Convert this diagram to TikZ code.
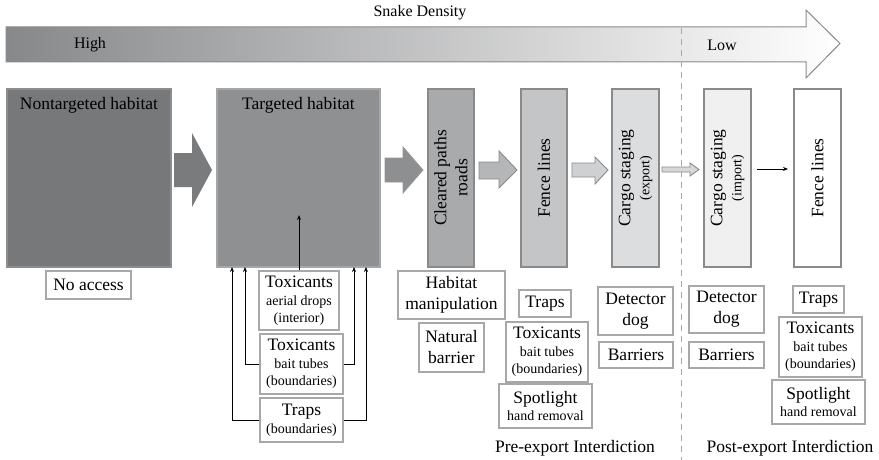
\documentclass[tikz,border=0pt]{standalone}
\usepackage{fontspec}
\setmainfont{Liberation Serif}
\usetikzlibrary{arrows.meta,calc}
\definecolor{bxline}{HTML}{A8A8A8}
\definecolor{cNont}{HTML}{77787A}
\definecolor{cNontL}{HTML}{8C8D8F}
\definecolor{cTarg}{HTML}{8F9092}
\definecolor{cTargL}{HTML}{A5A6A8}
\definecolor{cClear}{HTML}{A9AAAC}
\definecolor{cFence}{HTML}{C4C5C7}
\definecolor{cCargoE}{HTML}{DCDDDF}
\definecolor{cCargoI}{HTML}{F0F0F0}
\definecolor{arrline}{HTML}{8A8A8A}
\definecolor{gradL}{HTML}{87888A}
\definecolor{aOne}{HTML}{7A7B7D}
\definecolor{aTwo}{HTML}{8E8F91}
\definecolor{aTwoL}{HTML}{969799}
\definecolor{aThree}{HTML}{B5B6B8}
\definecolor{aFour}{HTML}{CFD0D2}
\definecolor{aFive}{HTML}{D8D8D8}
\newcommand{\mainsz}{\fontsize{17.5}{21}\selectfont}
\newcommand{\smallsz}{\fontsize{14}{17}\selectfont}
\newcommand{\sm}[1]{{\smallsz #1}}
\tikzset{
  x=1pt, y=-1pt,
  bigbox/.style={draw, line width=1.4pt, inner sep=0pt, font=\mainsz},
  vbox/.style={bigbox, rotate=90, align=center, minimum width=178pt, minimum height=46pt},
  smallbox/.style={draw=bxline, fill=white, line width=1.3pt, inner sep=0pt, align=center, font=\mainsz},
  conn/.style={line width=0.8pt, -{Stealth[length=5pt,width=4pt]}},
  blockarrow/.style={line width=0.9pt, draw=arrline}
}
\begin{document}
\begin{tikzpicture}
\useasboundingbox (0,0) rectangle (879,460);

% density arrow
\shade[left color=gradL, right color=white]
  (6,27) -- (806,27) -- (806,10) -- (840,43.5) -- (806,78) -- (806,62) -- (6,62) -- cycle;
\draw[draw=arrline, line width=1pt]
  (6,27) -- (806,27) -- (806,10) -- (840,43.5) -- (806,78) -- (806,62) -- (6,62) -- cycle;
\node[font=\fontsize{16}{18}\selectfont] (dens) at (420,13) {Snake Density};
\node[font=\fontsize{16}{18}\selectfont] (high) at (90,45) {High};
\node[font=\fontsize{16}{18}\selectfont] (low) at (722,45) {Low};

% dashed divider
\draw[draw=bxline, line width=1pt, dash pattern=on 6pt off 5pt] (681,28) -- (681,460);

% big boxes
\node[bigbox, fill=cNont, draw=cNontL, minimum width=164pt, minimum height=178pt,
  label={[anchor=north, yshift=-6pt, font=\mainsz]north:Nontargeted habitat}] (nont) at (89,178) {};
\node[bigbox, fill=cTarg, draw=cTargL, minimum width=163pt, minimum height=178pt,
  label={[anchor=north, yshift=-6pt, font=\mainsz]north:Targeted habitat}] (targ) at (298.5,178) {};
\node[vbox, fill=cClear, draw=arrline] (clear) at (451,178) {Cleared paths\\roads};
\node[vbox, fill=cFence, draw=arrline] (fence1) at (544,178) {Fence lines};
\node[vbox, fill=cCargoE, draw=arrline, minimum height=47pt] (cargo1) at (635.5,178) {Cargo staging\\[-2pt]\sm{(export)}};
\node[vbox, fill=cCargoI, draw=arrline, minimum height=47pt] (cargo2) at (727.5,178) {Cargo staging\\[-2pt]\sm{(import)}};
\node[vbox, fill=white, draw=arrline, minimum height=47pt] (fence2) at (817.5,178) {Fence lines};

% block arrows
\fill[aOne]
  (174,153) -- (192,153) -- (192,133) -- (212,170) -- (192,207) -- (192,187) -- (174,187) -- cycle;
\filldraw[fill=aTwo, draw=aTwoL, line width=0.8pt]
  (385,158) -- (403,158) -- (403,147) -- (423,170) -- (403,193) -- (403,182) -- (385,182) -- cycle;
\filldraw[blockarrow, fill=aThree]
  (479,162) -- (499,162) -- (499,151) -- (517,170) -- (499,188) -- (499,179) -- (479,179) -- cycle;
\filldraw[blockarrow, fill=aFour]
  (572,163) -- (595,163) -- (595,157) -- (608,170) -- (595,184) -- (595,177) -- (572,177) -- cycle;
\filldraw[blockarrow, fill=aFive]
  (662,167) -- (690,167) -- (690,163) -- (699,169.5) -- (690,176) -- (690,172) -- (662,172) -- cycle;
\draw[conn] (757,169) -- (788,169);

% small boxes
\node[smallbox, minimum width=85pt, minimum height=28pt] (noacc) at (88.5,285) {No access};
\node[smallbox, minimum width=80pt, minimum height=59pt] (tox1) at (299,300.5) {Toxicants\\[-3pt]\sm{aerial drops}\\[-4pt]\sm{(interior)}};
\node[smallbox, minimum width=83pt, minimum height=60pt] (tox2) at (301.5,364) {Toxicants\\[-3pt]\sm{bait tubes}\\[-4pt]\sm{(boundaries)}};
\node[smallbox, minimum width=83pt, minimum height=44pt] (trap1) at (301.5,420) {Traps\\[-3pt]\sm{(boundaries)}};

\node[smallbox, minimum width=107pt, minimum height=48pt] (habm) at (451.5,295) {Habitat\\manipulation};
\node[smallbox, minimum width=65pt, minimum height=49pt] (natb) at (451.5,347.5) {Natural\\barrier};

\node[smallbox, minimum width=52pt, minimum height=27pt] (trap2) at (545,303.5) {Traps};
\node[smallbox, minimum width=82pt, minimum height=60pt] (tox3) at (547,352) {Toxicants\\[-3pt]\sm{bait tubes}\\[-4pt]\sm{(boundaries)}};
\node[smallbox, minimum width=93pt, minimum height=44pt] (spot1) at (545.5,406) {Spotlight\\[-4pt]\sm{hand removal}};

\node[smallbox, minimum width=75pt, minimum height=48pt] (dog1) at (635.5,311) {Detector\\dog};
\node[smallbox, minimum width=74pt, minimum height=26pt] (bar1) at (636,355) {Barriers};

\node[smallbox, minimum width=75pt, minimum height=47pt] (dog2) at (726.5,309.5) {Detector\\dog};
\node[smallbox, minimum width=75pt, minimum height=26pt] (bar2) at (726.5,355) {Barriers};

\node[smallbox, minimum width=51pt, minimum height=27pt] (trap3) at (818.5,299.5) {Traps};
\node[smallbox, minimum width=83pt, minimum height=60pt] (tox4) at (820.5,347) {Toxicants\\[-3pt]\sm{bait tubes}\\[-4pt]\sm{(boundaries)}};
\node[smallbox, minimum width=93pt, minimum height=44pt] (spot2) at (818.5,402) {Spotlight\\[-4pt]\sm{hand removal}};

% connectors into targeted habitat
\coordinate (tin) at (299,215);
\coordinate (b1) at (232,267);
\coordinate (b2) at (245,267);
\coordinate (b3) at (354,267);
\coordinate (b4) at (366,267);
\draw[conn] (tox1.north) -- (tin);
\draw[conn] (trap1.west) -| (b1);
\draw[conn] (tox2.west) -| (b2);
\draw[conn] (tox2.east) -| (b3);
\draw[conn] (trap1.east) -| (b4);

% section labels
\node[font=\mainsz] (pre) at (575,448) {Pre-export Interdiction};
\node[font=\mainsz] (post) at (790,448) {Post-export Interdiction};
\end{tikzpicture}
\end{document}
